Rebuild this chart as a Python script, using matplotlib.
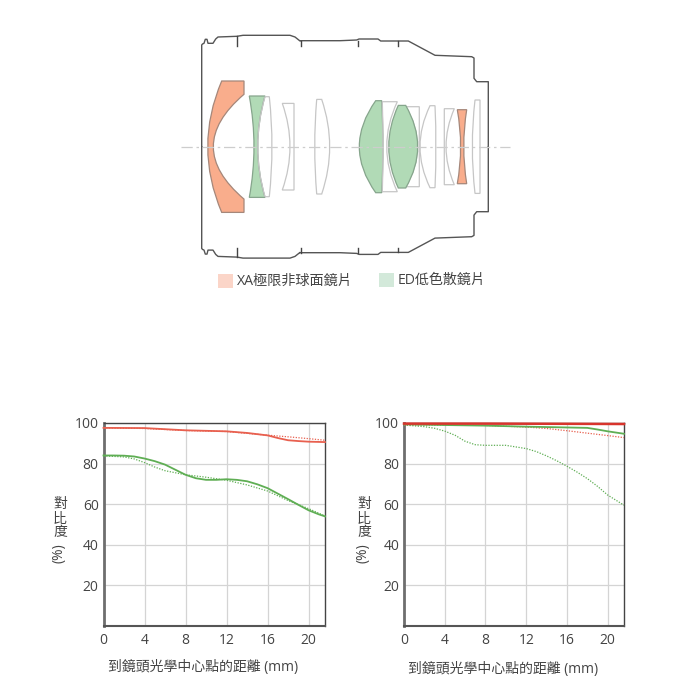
"""MTF charts and lens element diagram."""

import matplotlib

matplotlib.use("Agg")
import matplotlib.pyplot as plt
from matplotlib.patches import PathPatch, Rectangle
from matplotlib.path import Path

plt.rcParams["font.family"] = ["Open Sans", "Noto Sans CJK TC", "DejaVu Sans"]

# MTF values, one list of distances per curve
left_red_x = [0, 4, 8, 12, 14, 16, 17, 18, 19, 20, 21.6]
left_red = [97.6, 97.5, 96.4, 95.9, 95.1, 93.9, 92.6, 91.5, 91.1, 90.8, 90.6]
left_red_dot_x = [0, 4, 8, 12, 16, 18, 20, 21.6]
left_red_dot = [97.6, 97.3, 96.3, 95.8, 94.0, 93.2, 92.3, 91.5]
left_green_x = [0, 1, 2, 3, 4, 5, 6, 7, 8, 9, 10, 11, 12, 13, 14, 15, 16, 17, 18, 19, 20, 21, 21.6]
left_green = [84, 84, 83.9, 83.5, 82.5, 81.2, 79.5, 77, 74.5, 72.8, 72, 72, 72.3, 72, 71.3, 69.8, 67.9, 65.2, 62.5, 59.7, 57, 55, 54]
left_green_dot_x = [0, 2, 3, 4, 5, 6, 8, 10, 12, 14, 16, 18, 20, 21.6]
left_green_dot = [83.8, 83.3, 82.3, 80.5, 78.3, 76.5, 74.5, 73.3, 71.8, 69.5, 66.5, 61.8, 57.8, 54.2]

right_red_x = [0, 8, 16, 21.6]
right_red = [99.7, 99.7, 99.6, 99.5]
right_red_dot_x = [0, 8, 12, 14, 16, 18, 20, 21.6]
right_red_dot = [99, 98.8, 98, 97.3, 96.2, 95, 93.8, 92.8]
right_green_x = [0, 4, 8, 12, 16, 18, 19, 20, 21.6]
right_green = [99.3, 99, 98.7, 98.2, 97.8, 97.6, 96.8, 95.9, 94.7]
right_green_dot_x = [0, 2, 3, 4, 5, 6, 7, 8, 10, 12, 13, 14, 15, 16, 17, 18, 19, 20, 21.6]
right_green_dot = [99, 98.2, 97.4, 96, 94, 91, 89.3, 89, 89, 87.4, 85.9, 83.8, 81.4, 78.7, 75.8, 72.6, 68.8, 64.5, 59.5]

x_ticks = [0, 4, 8, 12, 16, 20]
y_ticks = [20, 40, 60, 80, 100]
x_label = "到鏡頭光學中心點的距離 (mm)"
y_label_chars = ["對", "比", "度"]

legend_labels = ["XA極限非球面鏡片", "ED低色散鏡片"]

# barrel outline (upper half, px), mirrored about the optical axis
barrel_x = [201.7, 201.7, 202.5, 204, 205.3, 207, 208, 213, 215.7, 218, 237, 243, 290, 295, 300, 300, 340, 356.7, 359, 378, 380.7, 408.3, 435, 471.7, 474, 474, 476.7, 488.3, 488.3]
barrel_y = [146.7, 45, 44, 43.3, 39.3, 39.3, 43.3, 43.3, 39, 37, 36.3, 35.3, 35.3, 37, 41, 40.7, 40.7, 40, 39, 39, 41, 41, 55.3, 56.7, 58, 78.3, 81.7, 81.7, 146.7]
barrel_tick_x = [237, 300.7, 357.7, 397.7]
barrel_tick_top = [36.3, 40.7, 40.7, 41]
barrel_tick_end = 45.7

# lens elements: front edge, front centre, back edge, back centre, half height, rim height, kind
lens_elements = [
    (221.7, 207.7, 244.0, 213.3, 65.7, 52.4, "xa"),
    (249.3, 254.0, 265.0, 257.7, 50.7, 50.7, "ed"),
    (265.0, 257.7, 269.3, 272.0, 50.0, 50.0, "plain"),
    (282.3, 290.0, 294.0, 294.0, 43.3, 43.3, "plain"),
    (316.7, 314.7, 321.7, 329.7, 47.3, 47.3, "plain"),
    (375.7, 359.3, 381.7, 383.0, 46.0, 46.0, "ed"),
    (382.3, 383.0, 397.3, 386.7, 45.0, 45.0, "plain"),
    (405.7, 417.7, 419.3, 419.3, 40.0, 40.0, "plain"),
    (398.3, 388.7, 405.7, 417.7, 41.3, 41.3, "ed"),
    (430.0, 420.0, 435.0, 436.0, 41.0, 41.0, "plain"),
    (444.3, 444.3, 454.3, 446.0, 38.0, 38.0, "plain"),
    (457.3, 460.7, 466.7, 463.7, 37.0, 37.0, "xa"),
    (475.0, 472.3, 480.0, 480.0, 46.7, 46.7, "plain"),
]
lens_fill = {"xa": "#f9ad8c", "ed": "#b1dab6", "plain": "none"}
lens_edge = {"xa": "#a5877a", "ed": "#86a58c", "plain": "#c6c6c6"}

AXIS_Y = 146.7
FIG_PX = 700
TEXT_COLOR = "#444444"
RED = "#e8604f"
GREEN = "#5fae54"


def lens_path(front_edge, front_mid, back_edge, back_mid, half, rim):
    """Closed outline of one element from its two curved surfaces."""
    verts = [
        (front_edge, AXIS_Y - half),
        (2 * front_mid - front_edge, AXIS_Y),
        (front_edge, AXIS_Y + half),
        (back_edge, AXIS_Y + half),
        (back_edge, AXIS_Y + rim),
        (2 * back_mid - back_edge, AXIS_Y),
        (back_edge, AXIS_Y - rim),
        (back_edge, AXIS_Y - half),
        (front_edge, AXIS_Y - half),
    ]
    codes = [Path.MOVETO, Path.CURVE3, Path.CURVE3, Path.LINETO, Path.LINETO, Path.CURVE3, Path.CURVE3, Path.LINETO, Path.CLOSEPOLY]
    return Path(verts, codes)


def draw_diagram(ax):
    """Barrel outline, lens elements, optical axis and legend."""
    for top in (True, False):
        ys = barrel_y if top else [2 * AXIS_Y - y for y in barrel_y]
        ax.plot(barrel_x, ys, color="#555555", lw=1.0)
        for x, y0 in zip(barrel_tick_x, barrel_tick_top):
            y1 = barrel_tick_end
            if not top:
                y0, y1 = 2 * AXIS_Y - y0, 2 * AXIS_Y - y1
            ax.plot([x, x], [y0, y1], color="#444444", lw=1.0)
    for front_edge, front_mid, back_edge, back_mid, half, rim, kind in lens_elements:
        path = lens_path(front_edge, front_mid, back_edge, back_mid, half, rim)
        ax.add_patch(PathPatch(path, facecolor=lens_fill[kind], edgecolor=lens_edge[kind], lw=0.9))
    ax.plot([181, 510], [AXIS_Y, AXIS_Y], color="#cdcdcd", lw=0.9, dashes=(9, 3, 2, 3))

    ax.add_patch(Rectangle((218, 274), 14.5, 14, facecolor="#fbd5c8", edgecolor="none"))
    ax.add_patch(Rectangle((379, 273), 14.5, 14, facecolor="#d3e9da", edgecolor="none"))
    ax.text(237, 281, legend_labels[0], fontsize=10.2, color=TEXT_COLOR, va="center")
    ax.text(398, 280, legend_labels[1], fontsize=10.1, color=TEXT_COLOR, va="center")


def draw_chart(fig, left_px, right_px, curves):
    """One MTF panel, placed by its pixel box."""
    ax = fig.add_axes([left_px / FIG_PX, 1 - 626 / FIG_PX, (right_px - left_px) / FIG_PX, 203 / FIG_PX])
    ax.set_xlim(0, 21.6)
    ax.set_ylim(0, 100)
    ax.set_xticks(x_ticks)
    ax.set_yticks(y_ticks)
    ax.grid(True, color="#d4d4d4", lw=0.9)
    ax.set_axisbelow(True)
    ax.tick_params(length=0, labelsize=10, labelcolor=TEXT_COLOR)
    ax.tick_params(axis="y", pad=3.5)
    ax.tick_params(axis="x", pad=5)
    ax.spines["left"].set(color="#6e6e6e", lw=2.0)
    ax.spines["bottom"].set(color="#555555", lw=1.5)
    ax.spines["top"].set(color="#444444", lw=1.0)
    ax.spines["right"].set(color="#444444", lw=1.0)
    for xs, ys, color, style, width in curves:
        ax.plot(xs, ys, color=color, ls=style, lw=width, clip_on=False, zorder=3)
    return ax


def main():
    fig = plt.figure(figsize=(7, 7), dpi=100)
    canvas = fig.add_axes([0, 0, 1, 1])
    canvas.set_xlim(0, FIG_PX)
    canvas.set_ylim(FIG_PX, 0)
    canvas.axis("off")
    draw_diagram(canvas)

    dot = (0, (1, 1.2))
    draw_chart(fig, 103.5, 325, [
        (left_red_dot_x, left_red_dot, RED, dot, 0.9),
        (left_red_x, left_red, RED, "-", 1.3),
        (left_green_dot_x, left_green_dot, GREEN, dot, 0.9),
        (left_green_x, left_green, GREEN, "-", 1.3),
    ])
    draw_chart(fig, 404, 624, [
        (right_green_dot_x, right_green_dot, GREEN, dot, 0.9),
        (right_red_dot_x, right_red_dot, RED, dot, 0.9),
        (right_green_x, right_green, GREEN, "-", 1.3),
        (right_red_x, right_red, "#d8342c", "-", 1.8),
    ])

    for label_x, ylabel_x, y_text in [(203.5, 60, 667), (503, 364, 669)]:
        canvas.text(label_x, y_text, x_label, fontsize=10, color=TEXT_COLOR, ha="center", va="center")
        for char, y in zip(y_label_chars, [504, 519, 533]):
            canvas.text(ylabel_x, y, char, fontsize=10, color=TEXT_COLOR, ha="center", va="center")
        canvas.text(ylabel_x - 1, 553, "(%)", fontsize=10, color=TEXT_COLOR, rotation=90, ha="center", va="center")

    fig.savefig("out.png", dpi=100)
    plt.close(fig)


if __name__ == "__main__":
    main()
